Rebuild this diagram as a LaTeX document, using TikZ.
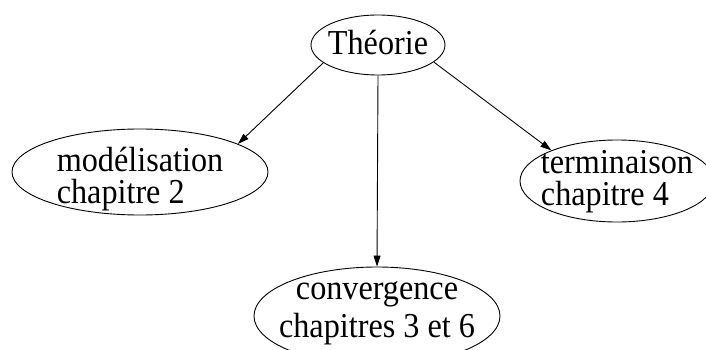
\documentclass[tikz,border=0pt]{standalone}
\usepackage{fontspec}
\setmainfont{Liberation Serif}[FakeStretch=0.92]
\usepackage{tikz}
\usetikzlibrary{shapes.geometric, arrows.meta}

\begin{document}
\begin{tikzpicture}
	[x=1pt, y=-1pt, line width=0.9pt,
	 topic/.style={draw, ellipse, inner sep=0pt, font=\fontsize{35}{30}\selectfont},
	 >={Triangle[length=11pt,width=7pt]}]
   \useasboundingbox (0,0) rectangle (706,350);
   \node[topic, minimum width=134pt, minimum height=60pt, inner xsep=-3pt,
         text height=25pt, text depth=5pt] (theorie) at (378,45) {Théorie};
   \node[topic, minimum width=256pt, minimum height=86pt, inner ysep=-1pt, align=left,
         text height=62pt, text depth=0pt] (modelisation) at (140,172) {modélisation\\[2pt]chapitre 2};
   \node[topic, minimum width=194pt, minimum height=82pt, inner xsep=-8pt, align=left,
         text height=48pt, text depth=0pt] (terminaison) at (617,181) {terminaison\\[2pt]chapitre 4};
   \node[topic, minimum width=246pt, minimum height=98pt, inner xsep=-20pt, align=center,
         text height=48pt, text depth=6pt] (convergence) at (377,316) {convergence\\[5pt]chapitres 3 et 6};
    \path[->]
    (theorie.198) edge (modelisation.16)
    (theorie.south) edge (convergence.north)
    (theorie.343) edge (terminaison.155);
\end{tikzpicture}
\end{document}
